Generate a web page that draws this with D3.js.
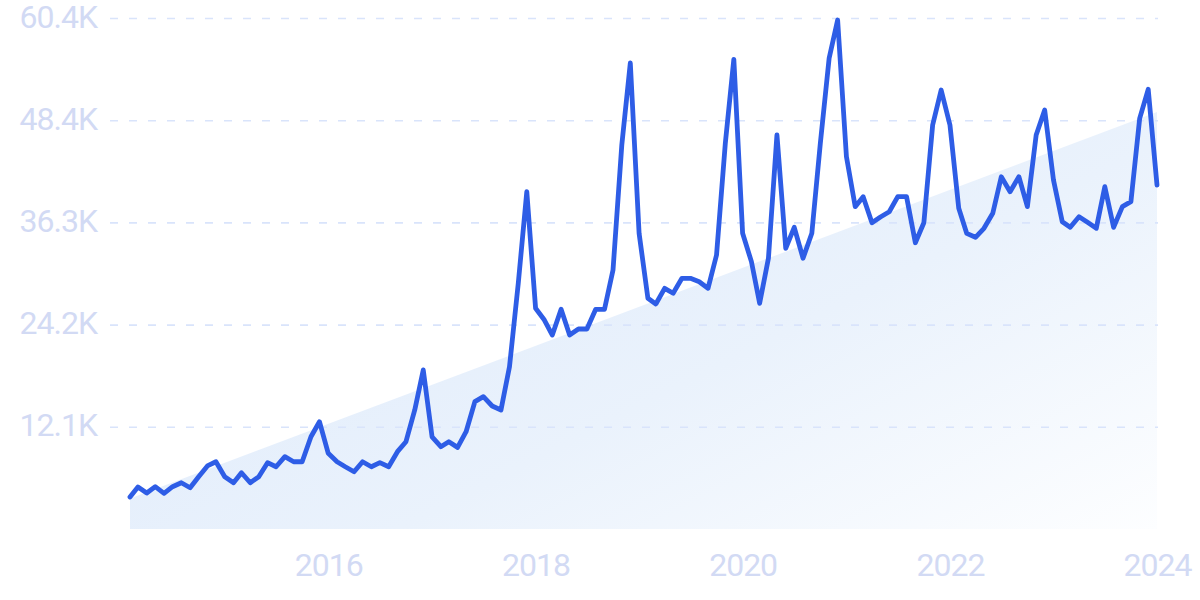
<!DOCTYPE html>
<html>
<head>
<meta charset="utf-8">
<script src="https://cdn.jsdelivr.net/npm/d3@7"></script>
<style>
  html, body { margin: 0; padding: 0; background: #ffffff; }
  svg { display: block; }
</style>
</head>
<body>
<svg id="chart" width="1200" height="600"></svg>
<script>
// ---- data ----
const startMonth = "2014-02";
const values = [
  3780, 4960, 4250, 5000, 4220, 5000, 5470, 4880, 6180, 7450, 7950,
  6180, 5470, 6650, 5470, 6180, 7840, 7360, 8550, 7950, 7950, 10900, 12680,
  8950, 7950, 7360, 6770, 7950, 7360, 7840, 7360, 9140, 10320, 14070, 18800,
  10900, 9730, 10320, 9650, 11500, 15050, 15640, 14540, 14070, 19180, 29040, 39870,
  26090, 24700, 22930, 25970, 22930, 23640, 23640, 25970, 25970, 30610, 45390, 55080,
  34950, 27270, 26600, 28450, 27860, 29630, 29630, 29230, 28450, 32390, 45590, 55520,
  34950, 31600, 26680, 32000, 46570, 33180, 35660, 32000, 34950, 45590, 55640, 60160,
  44010, 38100, 39280, 36200, 36880, 37500, 39280, 39280, 33840, 36200, 47750, 51890,
  47750, 37910, 34950, 34480, 35540, 37320, 41640, 39870, 41640, 38100, 46570, 49530,
  41250, 36320, 35660, 36910, 36250, 35540, 40460, 35660, 38100, 38690, 48540, 51970,
  40660
];
const trendValues = [3600, 49300];           // trend at first and last month
const yTickValues = [12080, 24160, 36240, 48320, 60400];
const yTickLabels = ["12.1K", "24.2K", "36.3K", "48.4K", "60.4K"];
const xTickYears = [2016, 2018, 2020, 2022, 2024];

// ---- build ----
const parseMonth = d3.timeParse("%Y-%m");
const start = parseMonth(startMonth);
const data = values.map((v, i) => ({ date: d3.timeMonth.offset(start, i), value: v }));
const first = data[0].date, last = data[data.length - 1].date;

const svg = d3.select("#chart");
const x = d3.scaleTime().domain([first, last]).range([130, 1157]);
const y = d3.scaleLinear().domain([0, 60400]).range([529, 18]);

const labelColor = "#d2daf4";
const fontFamily = "Roboto, 'Noto Sans', sans-serif";

// gradient
const defs = svg.append("defs");
const grad = defs.append("linearGradient")
  .attr("id", "trendGrad")
  .attr("x1", "0").attr("y1", "0.2").attr("x2", "1").attr("y2", "1");
grad.append("stop").attr("offset", "0%").attr("stop-color", "#deeafb");
grad.append("stop").attr("offset", "55%").attr("stop-color", "#eaf2fc");
grad.append("stop").attr("offset", "100%").attr("stop-color", "#fdfeff");

// trend area
const trend = [
  { date: first, value: trendValues[0] },
  { date: last, value: trendValues[1] }
];
svg.append("path")
  .datum(trend)
  .attr("fill", "url(#trendGrad)")
  .attr("d", d3.area().x(d => x(d.date)).y0(y(0)).y1(d => y(d.value)));

// gridlines
const yAxis = d3.axisLeft(y)
  .tickValues(yTickValues)
  .tickSize(-(1158 - 110))
  .tickPadding(13)
  .tickFormat((d, i) => yTickLabels[i]);
const gy = svg.append("g").attr("transform", "translate(110,0)").call(yAxis);
gy.select(".domain").remove();
gy.selectAll(".tick line")
  .attr("stroke", "#d9e4fb")
  .attr("stroke-width", 1.6)
  .attr("stroke-dasharray", "8 11");
gy.selectAll(".tick text")
  .attr("fill", labelColor)
  .attr("font-family", fontFamily)
  .attr("font-size", 32)
  .attr("letter-spacing", "-1px")
  .attr("dy", "9")
  .attr("dominant-baseline", "alphabetic");

// x axis labels
const xAxis = d3.axisBottom(x)
  .tickValues(xTickYears.map(yr => new Date(yr, 0, 1)))
  .tickSize(0)
  .tickPadding(0)
  .tickFormat(d3.timeFormat("%Y"));
const gx = svg.append("g").attr("transform", "translate(0,576)").call(xAxis);
gx.select(".domain").remove();
gx.selectAll(".tick text")
  .attr("fill", labelColor)
  .attr("font-family", fontFamily)
  .attr("font-size", 32)
  .attr("letter-spacing", "-1px")
  .attr("dy", "0")
  .attr("y", 0)
  .attr("dominant-baseline", "alphabetic");

// line
svg.append("path")
  .datum(data)
  .attr("fill", "none")
  .attr("stroke", "#2e5de6")
  .attr("stroke-width", 4.8)
  .attr("stroke-linejoin", "round")
  .attr("stroke-linecap", "round")
  .attr("d", d3.line().x(d => x(d.date)).y(d => y(d.value)));
</script>
</body>
</html>
